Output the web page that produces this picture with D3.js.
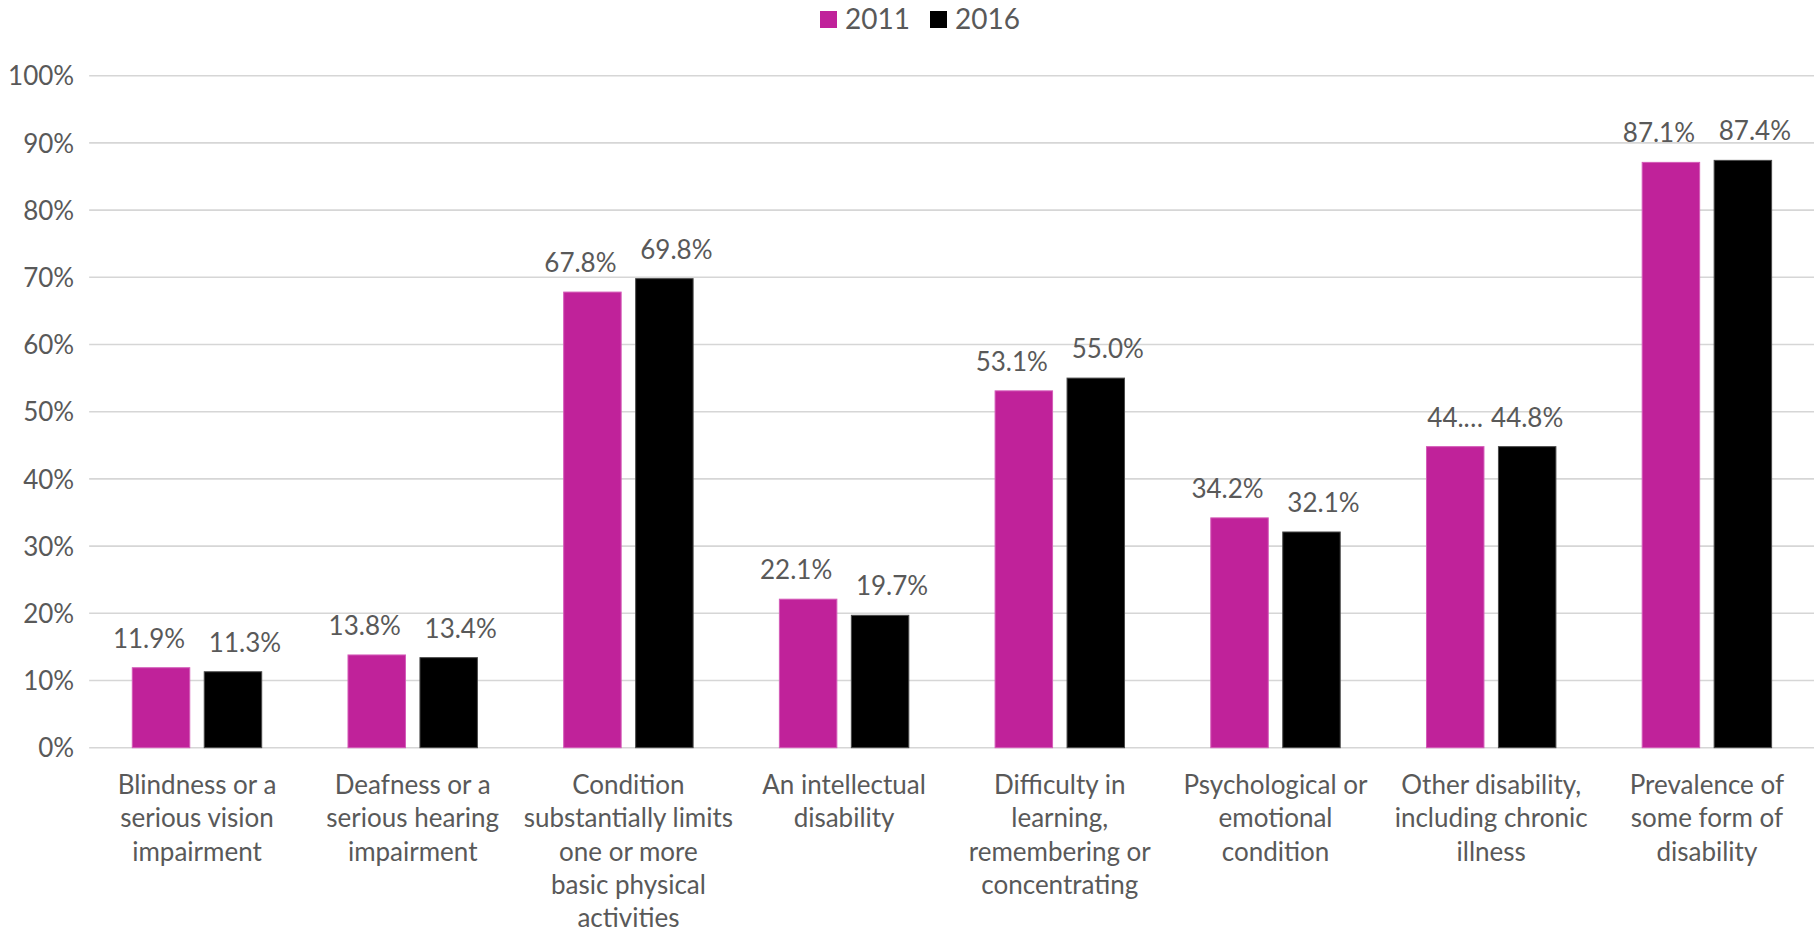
<!DOCTYPE html>
<html>
<head>
<meta charset="utf-8">
<script src="https://cdn.jsdelivr.net/npm/d3@7/dist/d3.min.js"></script>
<style>
  html, body { margin: 0; padding: 0; background: #ffffff; }
  svg { display: block; }
  text { font-family: Lato, "Open Sans", sans-serif; fill: #595959; }
</style>
</head>
<body>
<svg id="chart" width="1814" height="936"></svg>
<script>
// Disability categories (line breaks as wrapped under the axis)
const categories = [
  "Blindness or a\nserious vision\nimpairment",
  "Deafness or a\nserious hearing\nimpairment",
  "Condition\nsubstantially limits\none or more\nbasic physical\nactivities",
  "An intellectual\ndisability",
  "Difficulty in\nlearning,\nremembering or\nconcentrating",
  "Psychological or\nemotional\ncondition",
  "Other disability,\nincluding chronic\nillness",
  "Prevalence of\nsome form of\ndisability"
];
const seriesNames = ["2011", "2016"];
const values2011 = [11.9, 13.8, 67.8, 22.1, 53.1, 34.2, 44.8, 87.1];
const values2016 = [11.3, 13.4, 69.8, 19.7, 55.0, 32.1, 44.8, 87.4];
// label shortened where it does not fit next to its neighbour
const labels2011 = ["11.9%", "13.8%", "67.8%", "22.1%", "53.1%", "34.2%", "44.…", "87.1%"];
const labels2016 = ["11.3%", "13.4%", "69.8%", "19.7%", "55.0%", "32.1%", "44.8%", "87.4%"];
const yTicks = [0, 10, 20, 30, 40, 50, 60, 70, 80, 90, 100];
const yTickLabels = ["0%", "10%", "20%", "30%", "40%", "50%", "60%", "70%", "80%", "90%", "100%"];

const colors = { "2011": "#C0229A", "2016": "#000000" };
const strokes = { "2011": "#D45BB8", "2016": "#4a4a4a" };

const svg = d3.select("#chart");
const plot = { left: 89.15, right: 1814.75, top: 75.7, bottom: 747.7 };
const FONT = 26;

const y = d3.scaleLinear().domain([0, 100]).range([plot.bottom, plot.top]);
const x0 = d3.scaleBand().domain(d3.range(categories.length))
  .range([plot.left, plot.right]).paddingInner(0).paddingOuter(0);
const groupPad = x0.bandwidth() * 0.2;
const x1 = d3.scaleBand().domain(seriesNames)
  .range([groupPad, x0.bandwidth() - groupPad]).paddingInner(0.2014);

// gridlines
svg.append("g").selectAll("line").data(yTicks).join("line")
  .attr("x1", plot.left).attr("x2", plot.right)
  .attr("y1", d => y(d)).attr("y2", d => y(d))
  .attr("stroke", "#d6d6d6").attr("stroke-width", 1.6);

// y axis labels
const yAxis = d3.axisLeft(y).tickValues(yTicks)
  .tickFormat((d, i) => yTickLabels[i]).tickSize(0).tickPadding(0);
const yg = svg.append("g").attr("transform", `translate(${plot.left - 15},0)`).call(yAxis);
yg.select(".domain").remove();
yg.selectAll("text").attr("font-size", FONT).attr("fill", "#595959")
  .attr("font-family", "Lato, sans-serif").attr("dy", "0.35em");

// bars
const rows = categories.map((c, i) => ({
  i, vals: [
    { s: "2011", v: values2011[i], label: labels2011[i] },
    { s: "2016", v: values2016[i], label: labels2016[i] }
  ]
}));

const groups = svg.append("g").selectAll("g").data(rows).join("g")
  .attr("transform", d => `translate(${x0(d.i)},0)`);

groups.selectAll("rect").data(d => d.vals).join("rect")
  .attr("x", d => x1(d.s))
  .attr("width", x1.bandwidth())
  .attr("y", d => y(d.v))
  .attr("height", d => y(0) - y(d.v))
  .attr("fill", d => colors[d.s])
  .attr("stroke", d => strokes[d.s])
  .attr("stroke-width", 1);

// value labels: pushed apart when both are full-length
groups.each(function (row) {
  const full = row.vals.every(d => d.label.endsWith("%"));
  const shift = full ? 12 : 0;
  d3.select(this).selectAll("text.val").data(row.vals).join("text")
    .attr("class", "val")
    .attr("x", (d, k) => x1(d.s) + x1.bandwidth() / 2 + (k === 0 ? -shift : shift))
    .attr("y", d => y(d.v) - 20)
    .attr("text-anchor", "middle")
    .attr("font-size", FONT)
    .text(d => d.label);
});

// category labels
const xg = svg.append("g");
categories.forEach((c, i) => {
  const cx = x0(i) + x0.bandwidth() / 2;
  const t = xg.append("text")
    .attr("x", cx)
    .attr("y", 794)
    .attr("text-anchor", "middle")
    .attr("font-size", FONT);
  c.split("\n").forEach((line, k) => {
    t.append("tspan").attr("x", cx)
      .attr("dy", k === 0 ? 0 : 33.3).text(line);
  });
});

// legend
const legend = svg.append("g");
const legendItems = [{ s: "2011", x: 820 }, { s: "2016", x: 930 }];
legendItems.forEach(it => {
  legend.append("rect").attr("x", it.x).attr("y", 11).attr("width", 17).attr("height", 17)
    .attr("fill", colors[it.s]);
  legend.append("text").attr("x", it.x + 25).attr("y", 28.5)
    .attr("font-size", FONT + 2).text(it.s);
});
</script>
</body>
</html>
